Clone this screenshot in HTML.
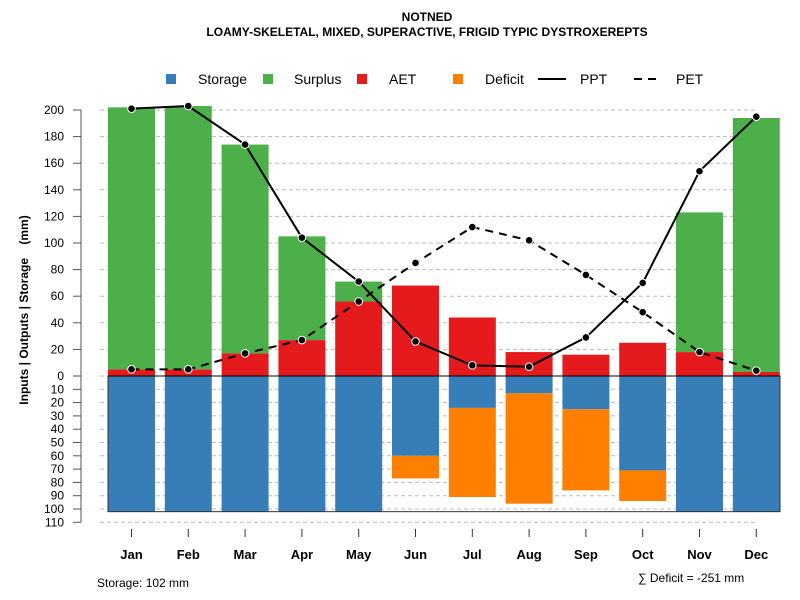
<!DOCTYPE html>
<html><head><meta charset="utf-8"><style>
body{margin:0;background:#fff}
svg{display:block;font-family:"Liberation Sans",sans-serif}
</style></head><body>
<svg id="chart" width="800" height="600">
<text x="427" y="21" text-anchor="middle" font-size="12" font-weight="bold">NOTNED</text>
<text x="427" y="36" text-anchor="middle" font-size="12" font-weight="bold">LOAMY-SKELETAL, MIXED, SUPERACTIVE, FRIGID TYPIC DYSTROXEREPTS</text>
<text transform="translate(28,310) rotate(-90)" text-anchor="middle" font-size="12" font-weight="bold">Inputs | Outputs | Storage&#160;&#160;&#160;&#160;(mm)</text>
<text x="97" y="587" font-size="12">Storage: 102 mm</text>
<text x="638" y="582" font-size="12">∑ Deficit = -251 mm</text>
<g id="legend"></g>
<g id="grid"></g><g id="bars"></g><g id="lines"></g><g id="axes"></g>
</svg>
<script>
const months=["Jan","Feb","Mar","Apr","May","Jun","Jul","Aug","Sep","Oct","Nov","Dec"];
const aet=[5,5,17,27,56,68,44,18,16,25,18,3];
const surplus=[197,198,157,78,15,0,0,0,0,0,105,191];
const storage=[102,102,102,102,102,60,24,13,25,71,102,102];
const deficit=[0,0,0,0,0,17,67,83,61,23,0,0];
const ppt=[201,203,174,104,71,26,8,7,29,70,154,195];
const pet=[5,5,17,27,56,85,112,102,76,48,18,4];
const topTicks=[0,20,40,60,80,100,120,140,160,180,200];
const botTicks=[10,20,30,40,50,60,70,80,90,100,110];
const NS="http://www.w3.org/2000/svg";
const y0=376,k=1.33;
const yUp=v=>y0-v*k, yDn=v=>y0+v*k;
const xc=i=>131.5+i*56.8, bw=47;
function mk(tag,attrs,parent){const e=document.createElementNS(NS,tag);for(const a in attrs)e.setAttribute(a,attrs[a]);document.getElementById(parent).appendChild(e);return e;}
mk("line",{x1:81,x2:81,y1:yUp(200),y2:yDn(110),stroke:"#555","stroke-width":1},"axes");
topTicks.forEach(t=>{const y=yUp(t);
 const g=mk("line",{x1:100,x2:756,y1:y,y2:y,stroke:"#bbb","stroke-dasharray":"4,3"},"grid");
 
 mk("line",{x1:73,x2:81,y1:y,y2:y,stroke:"#555"},"axes");
 const t1=mk("text",{x:64,y:y+4,"text-anchor":"end","font-size":12},"axes");t1.textContent=t;
 
});
botTicks.forEach(t=>{const y=yDn(t);
 mk("line",{x1:100,x2:756,y1:y,y2:y,stroke:"#bbb","stroke-dasharray":"4,3"},"grid");
 mk("line",{x1:73,x2:81,y1:y,y2:y,stroke:"#555"},"axes");
 const t1=mk("text",{x:64,y:y+4,"text-anchor":"end","font-size":12},"axes");t1.textContent=t;
 
});
months.forEach((m,i)=>{const x=xc(i)-bw/2;
 let r=mk("rect",{x:x,y:yUp(aet[i]),width:bw,height:aet[i]*k,fill:"#e41a1c"},"bars");
 
 if(surplus[i]>0){r=mk("rect",{x:x,y:yUp(aet[i]+surplus[i]),width:bw,height:surplus[i]*k,fill:"#4daf4a"},"bars");
 }
 r=mk("rect",{x:x,y:y0,width:bw,height:storage[i]*k,fill:"#377eb8"},"bars");
 
 if(deficit[i]>0){r=mk("rect",{x:x,y:yDn(storage[i]),width:bw,height:deficit[i]*k,fill:"#ff7f00"},"bars");
 }
 mk("line",{x1:xc(i),x2:xc(i),y1:529,y2:537,stroke:"#333"},"axes");
 const t=mk("text",{x:xc(i),y:559,"text-anchor":"middle","font-size":13,"font-weight":"bold"},"axes");t.textContent=m;
 
});
mk("rect",{x:108,y:y0,width:672,height:102*k,fill:"none",stroke:"#333","stroke-width":1},"bars");
mk("line",{x1:108,x2:780,y1:y0,y2:y0,stroke:"#000","stroke-width":1},"bars");
function series(vals,dash,name){
 const p=mk("polyline",{points:vals.map((v,i)=>xc(i)+","+yUp(v)).join(" "),fill:"none",stroke:"#000","stroke-width":2,"stroke-dasharray":dash},"lines");
 
 vals.forEach((v,i)=>{const c=mk("circle",{cx:xc(i),cy:yUp(v),r:3.8,fill:"#000",stroke:"#fff","stroke-width":1},"lines");
 });
}
series(pet,"8,6","pet");
series(ppt,"none","ppt");
const lg=[["Storage","#377eb8",166,198],["Surplus","#4daf4a",263,294],["AET","#e41a1c",357,389],["Deficit","#ff7f00",453,485]];
lg.forEach(l=>{const r=mk("rect",{x:l[2],y:74,width:10,height:10,fill:l[1]},"legend");
 
 const t=mk("text",{x:l[3],y:84,"font-size":14},"legend");t.textContent=l[0];
 });
mk("line",{x1:538,x2:566,y1:79,y2:79,stroke:"#000","stroke-width":2},"legend");
let t=mk("text",{x:580,y:84,"font-size":14},"legend");t.textContent="PPT";

mk("line",{x1:634,x2:662,y1:79,y2:79,stroke:"#000","stroke-width":2,"stroke-dasharray":"8,6"},"legend");
t=mk("text",{x:676,y:84,"font-size":14},"legend");t.textContent="PET";

</script>
</body></html>
